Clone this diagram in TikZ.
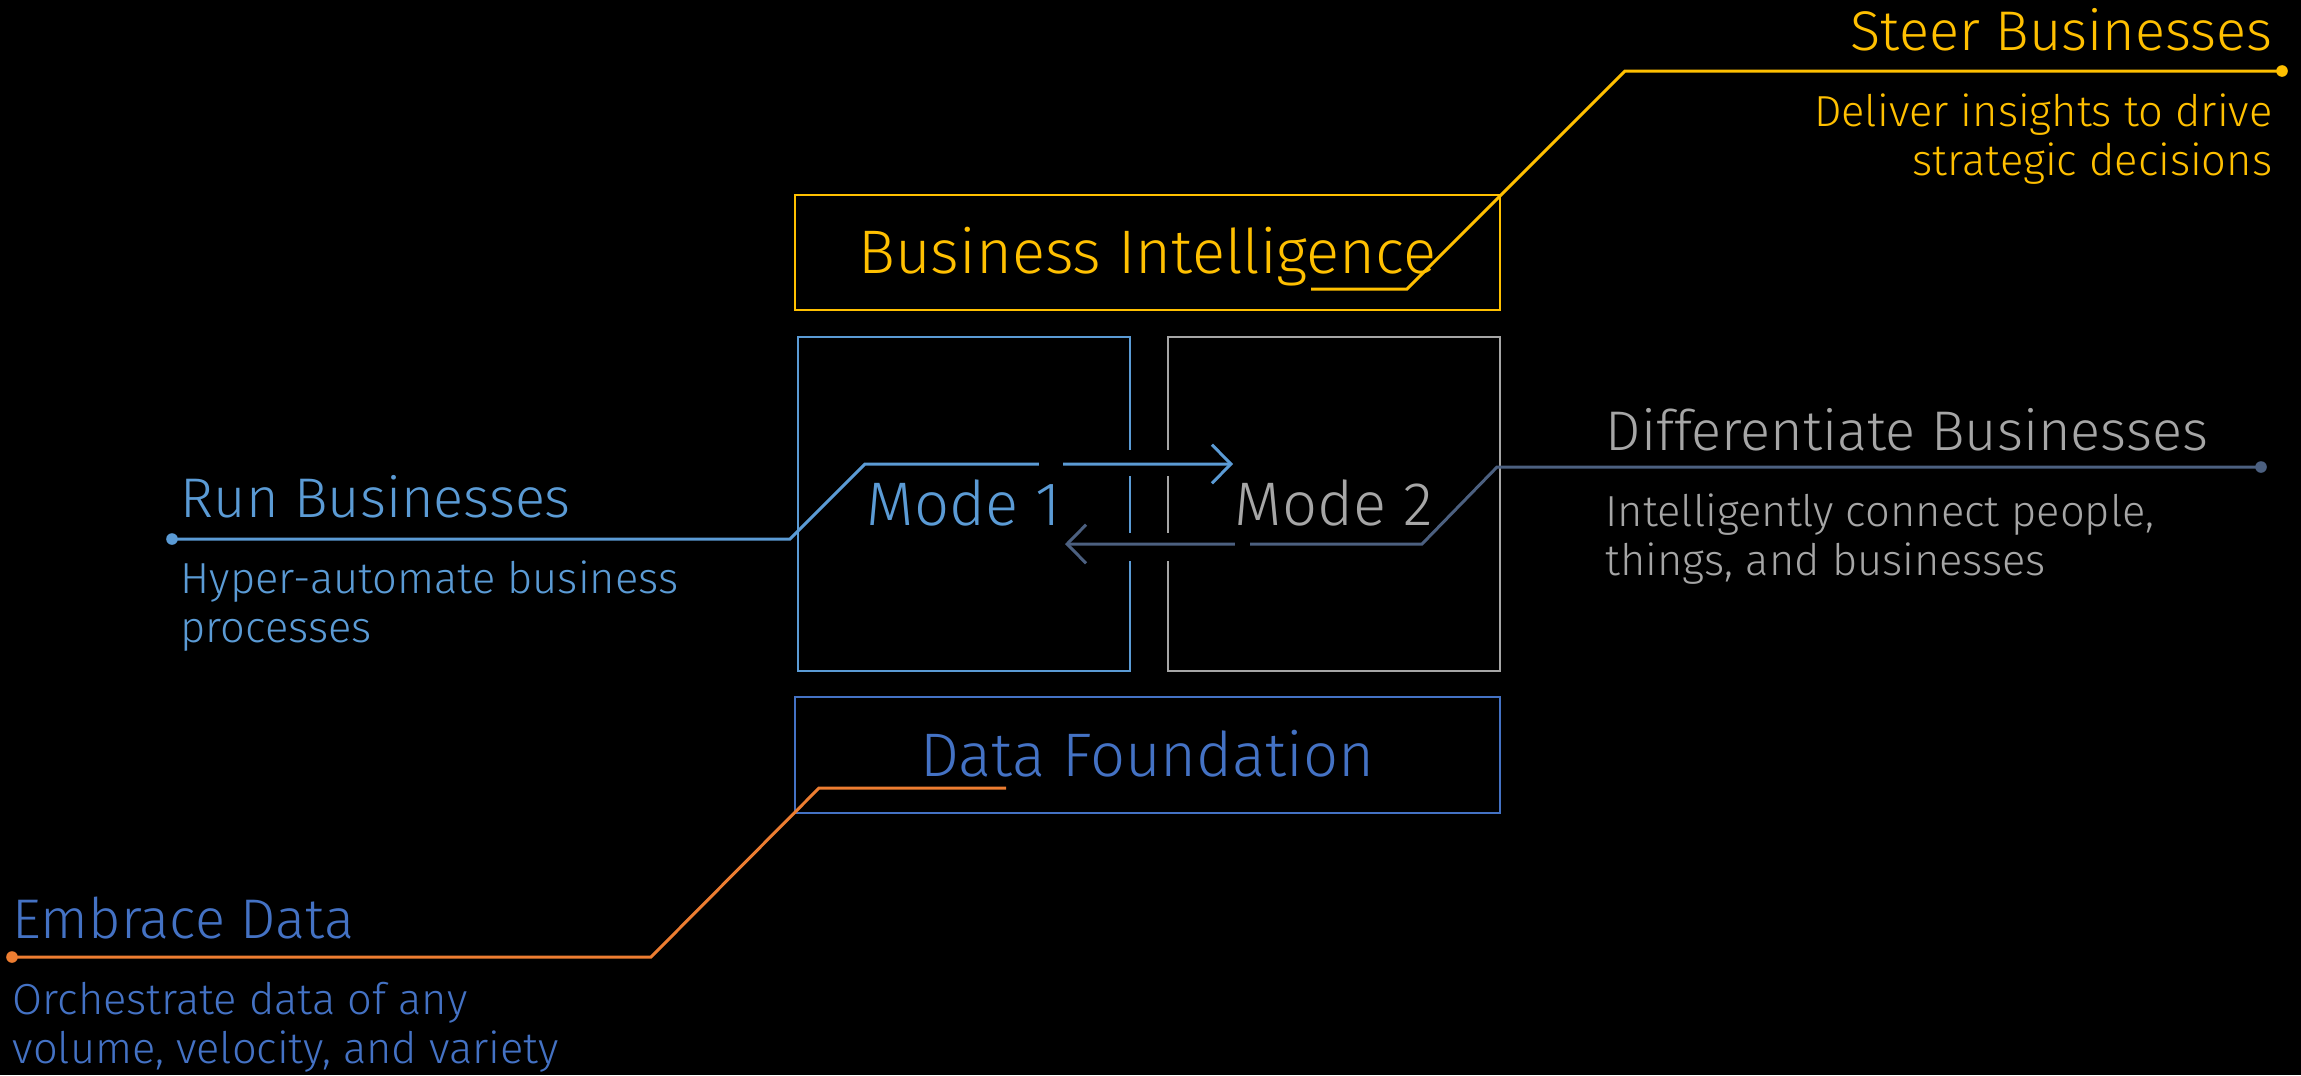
\documentclass[tikz,border=0pt]{standalone}
\usepackage{fontspec}
\setmainfont{Fira Sans Light}
\usetikzlibrary{arrows.meta}
\definecolor{gold}{RGB}{255,192,0}
\definecolor{lblue}{RGB}{91,155,213}
\definecolor{mgray}{RGB}{166,166,166}
\definecolor{slate}{RGB}{76,96,128}
\definecolor{dblue}{RGB}{68,114,196}
\definecolor{orng}{RGB}{237,125,49}
\begin{document}
\begin{tikzpicture}[x=0.01cm,y=-0.01cm,
  boxfont/.style={font=\fontsize{17.5pt}{21pt}\selectfont},
  titlefont/.style={font=\fontsize{15.9pt}{19pt}\selectfont},
  subfont/.style={font=\fontsize{12.35pt}{13.9pt}\selectfont},
  wide/.style={draw, line width=0.6pt, inner sep=0pt, minimum width=7.05cm, minimum height=1.15cm, text height=12.1pt, text depth=0pt, boxfont},
  tall/.style={draw, line width=0.6pt, inner sep=0pt, minimum width=3.32cm, minimum height=3.34cm, text height=12.1pt, text depth=0pt, boxfont},
  label/.style={inner sep=0pt},
  conn/.style={line width=0.85pt},
  tip/.style={-{Straight Barb[length=5.4pt,width=11pt,line width=0.85pt]}},
  dot/.style={circle, fill, inner sep=0pt, minimum size=3.3pt},
  knock/.style={fill=black, draw=none}
]
\useasboundingbox (0,0) rectangle (2301,1075);
\fill[black] (0,0) rectangle (2301,1075);

% boxes
\node[wide, draw=gold, text=gold] (bi) at (1147.5,252.5) {Business Intelligence};
\node[tall, draw=lblue, text=lblue] (m1) at (964,504) {Mode 1};
\node[tall, draw=mgray, text=mgray] (m2) at (1334,504) {Mode 2};
\node[wide, draw=dblue, text=dblue, minimum height=1.16cm] (df) at (1147.5,755) {Data Foundation};

% gaps in the inner box edges
\fill[knock] (1122,450) rectangle (1176,476);
\fill[knock] (1122,533) rectangle (1176,561);

% side titles
\node[label, titlefont, text=gold, anchor=base east] (steer) at (2273,50) {Steer Businesses};
\node[label, subfont, text=gold, anchor=base east, align=right] (steersub) at (2273,175) {Deliver insights to drive\\strategic decisions};
\node[label, titlefont, text=mgray, anchor=base west] (diff) at (1605,450) {Differentiate Businesses};
\node[label, subfont, text=mgray, anchor=base west, align=left] (diffsub) at (1605,575) {Intelligently connect people,\\things, and businesses};
\node[label, titlefont, text=lblue, anchor=base west] (run) at (180,517) {Run Businesses};
\node[label, subfont, text=lblue, anchor=base west, align=left] (runsub) at (180,642) {Hyper-automate business\\processes};
\node[label, titlefont, text=dblue, anchor=base west] (emb) at (12,938) {Embrace Data};
\node[label, subfont, text=dblue, anchor=base west, align=left] (embsub) at (12,1063) {Orchestrate data of any\\volume, velocity, and variety};

% dots
\node[dot, fill=gold] (dsteer) at (2282,71) {};
\node[dot, fill=slate] (ddiff) at (2261,467) {};
\node[dot, fill=lblue] (drun) at (172,539) {};
\node[dot, fill=orng] (demb) at (12,957) {};

% bend points and free ends
\coordinate (s1) at (1625,71);
\coordinate (s2) at (1407,289);
\coordinate (s3) at (1311,289);
\coordinate (r1) at (790,539);
\coordinate (r2) at (865,464);
\coordinate (r3) at (1233,464);
\coordinate (d1) at (1497,467);
\coordinate (d2) at (1422,544);
\coordinate (d3) at (1065,544);
\coordinate (e1) at (651,957);
\coordinate (e2) at (819,788);
\coordinate (e3) at (1006,788);

% connectors
\draw[conn, gold] (dsteer.center) -- (s1) -- (s2) -- (s3);
\draw[conn, lblue, tip] (drun.center) -- (r1) -- (r2) -- (r3);
\draw[conn, slate, tip] (ddiff.center) -- (d1) -- (d2) -- (d3);
\draw[conn, orng] (demb.center) -- (e1) -- (e2) -- (e3);

% knock-outs in the arrows
\fill[knock] (1039,455) rectangle (1063,473);
\fill[knock] (1235,535) rectangle (1250,553);
\end{tikzpicture}
\end{document}
